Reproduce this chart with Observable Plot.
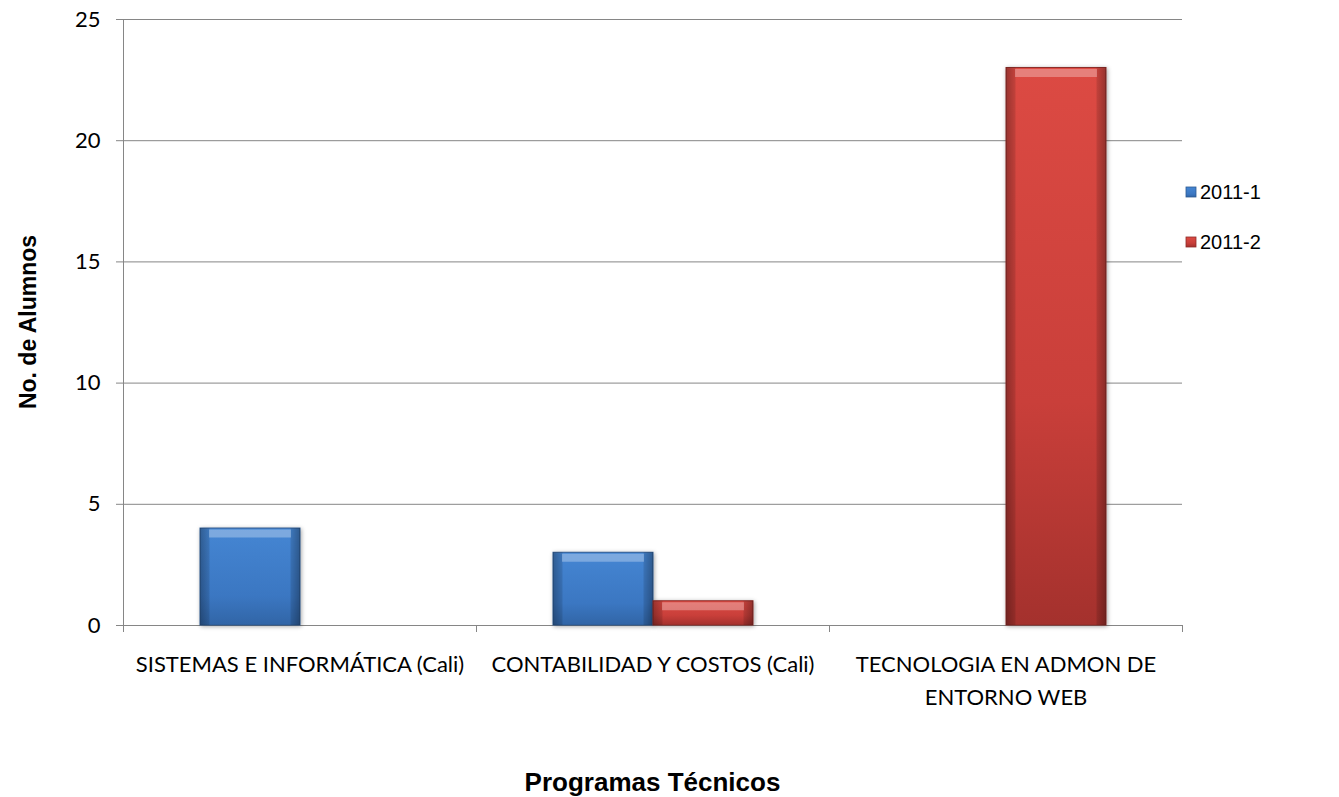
<!DOCTYPE html>
<html>
<head>
<meta charset="utf-8">
<script src="https://cdn.jsdelivr.net/npm/d3@7"></script>
<script src="https://cdn.jsdelivr.net/npm/@observablehq/plot@0.6"></script>
<style>
  html, body { margin: 0; padding: 0; background: #ffffff; }
  #chart { width: 1339px; height: 797px; }
</style>
</head>
<body>
<div id="chart"></div>
<script>
// ---- data ----
const categories = [
  "SISTEMAS E INFORMÁTICA (Cali)",
  "CONTABILIDAD Y COSTOS (Cali)",
  "TECNOLOGIA EN ADMON DE ENTORNO WEB"
];
const categoryLabels = [
  "SISTEMAS E INFORMÁTICA (Cali)",
  "CONTABILIDAD Y COSTOS (Cali)",
  "TECNOLOGIA EN ADMON DE\nENTORNO WEB"
];
const seriesNames = ["2011-1", "2011-2"];
const values2011_1 = [4, 3, 0];
const values2011_2 = [0, 1, 23];
const yTicks = [0, 5, 10, 15, 20, 25];
const yTitle = "No. de Alumnos";
const xTitle = "Programas Técnicos";

const seriesValues = {"2011-1": values2011_1, "2011-2": values2011_2};
const rows = categories.flatMap((c, i) =>
  seriesNames.map(s => ({category: c, series: s, value: seriesValues[s][i]}))
).filter(d => d.value > 0);

const palette = {
  "2011-1": {face: "url(#faceBlue)", border: "#2d5a92"},
  "2011-2": {face: "url(#faceRed)", border: "#8e2c28"}
};

function seriesMarks(s) {
  const d = rows.filter(r => r.series === s);
  const p = palette[s];
  return [
    Plot.barY(d, {fx: "category", x: "series", y: "value", fill: p.face, stroke: p.border, strokeWidth: 1,
      imageFilter: "drop-shadow(1px 1px 2px rgba(0,0,0,0.35))"}),
    Plot.barY(d, {fx: "category", x: "series", y: "value", fill: "url(#sideShade)"}),
    Plot.tickY(d, {fx: "category", x: "series", y: "value", stroke: "white", strokeOpacity: 0.3,
      strokeWidth: 8, dy: 5, insetLeft: 9, insetRight: 9})
  ];
}

const chart = Plot.plot({
  width: 1339,
  height: 797,
  marginLeft: 122,
  marginRight: 157,
  marginTop: 19,
  marginBottom: 172,
  style: {fontFamily: "Lato, sans-serif", background: "white"},
  fx: {domain: categories, paddingInner: 0, paddingOuter: 0, axis: null, label: null},
  x: {domain: seriesNames, paddingInner: 0, paddingOuter: 0.75, axis: null, label: null},
  y: {domain: [0, 25], axis: null, label: null},
  marks: [
    Plot.gridY(yTicks, {stroke: "#868686", strokeOpacity: 1}),
    Plot.axisY({ticks: yTicks, tickSize: 7, tickPadding: 16, fontSize: 22, stroke: "#868686",
      fill: "black", label: null}),
    Plot.axisFx({anchor: "bottom", tickSize: 0, tickPadding: 23, fontSize: 22, lineHeight: 1.5,
      fill: "black", label: null,
      tickFormat: d => categoryLabels[categories.indexOf(d)]}),
    ...seriesMarks("2011-1"),
    ...seriesMarks("2011-2")
  ]
});

document.getElementById("chart").appendChild(chart);

// gradients
const svg = d3.select(chart);
const defs = svg.insert("defs", ":first-child");
function vgrad(id, stops) {
  const g = defs.append("linearGradient").attr("id", id)
    .attr("x1", 0).attr("y1", 0).attr("x2", 0).attr("y2", 1);
  stops.forEach(([o, c]) => g.append("stop").attr("offset", o).attr("stop-color", c));
}
vgrad("faceBlue", [["0%", "#4586d3"], ["70%", "#3b77c2"], ["100%", "#3165a6"]]);
vgrad("faceRed", [["0%", "#dc4a43"], ["60%", "#c93f3a"], ["100%", "#a4312d"]]);
const side = defs.append("linearGradient").attr("id", "sideShade")
  .attr("x1", 0).attr("y1", 0).attr("x2", 1).attr("y2", 0);
[["0%", 0.30], ["9%", 0.12], ["10%", 0], ["90%", 0], ["91%", 0.12], ["100%", 0.32]]
  .forEach(([o, a]) => side.append("stop").attr("offset", o).attr("stop-color", "black").attr("stop-opacity", a));

// axis line and category boundary ticks, from the plot's own scales
const fx = chart.scale("fx");
const y = chart.scale("y");
const y0 = y.apply(0), yTop = y.apply(yTicks[yTicks.length - 1]);
const bounds = categories.map(c => fx.apply(c)).concat([fx.apply(categories[categories.length - 1]) + fx.bandwidth]);
const g = svg.append("g").attr("stroke", "#868686").attr("stroke-width", 1);
g.append("line").attr("x1", bounds[0] + 0.5).attr("x2", bounds[0] + 0.5).attr("y1", yTop).attr("y2", y0 + 7);
bounds.forEach(b => g.append("line").attr("x1", b + 0.5).attr("x2", b + 0.5).attr("y1", y0).attr("y2", y0 + 7));

// axis titles (centred on the plot area)
const xMid = (bounds[0] + bounds[bounds.length - 1]) / 2;
const yMid = (y0 + yTop) / 2;
svg.append("text")
  .attr("transform", `translate(36,${yMid}) rotate(-90)`)
  .attr("text-anchor", "middle")
  .attr("font-family", "Liberation Sans, Arial, sans-serif")
  .attr("font-weight", "bold").attr("font-size", 23).attr("fill", "black")
  .text(yTitle);
svg.append("text")
  .attr("x", xMid).attr("y", 791)
  .attr("text-anchor", "middle")
  .attr("font-family", "Liberation Sans, Arial, sans-serif")
  .attr("font-weight", "bold").attr("font-size", 26).attr("fill", "black")
  .text(xTitle);

// legend
const legend = svg.append("g")
  .attr("font-family", "Liberation Sans, Arial, sans-serif").attr("font-size", 20)
  .attr("text-anchor", "start");
seriesNames.forEach((s, i) => {
  const row = legend.append("g").attr("transform", `translate(1186,${187 + i * 50})`);
  row.append("rect").attr("width", 10).attr("height", 10)
    .attr("fill", palette[s].face).attr("stroke", palette[s].border).attr("stroke-width", 0.8);
  row.append("text").attr("x", 14).attr("y", 12).attr("fill", "black").text(s);
});
</script>
</body>
</html>
